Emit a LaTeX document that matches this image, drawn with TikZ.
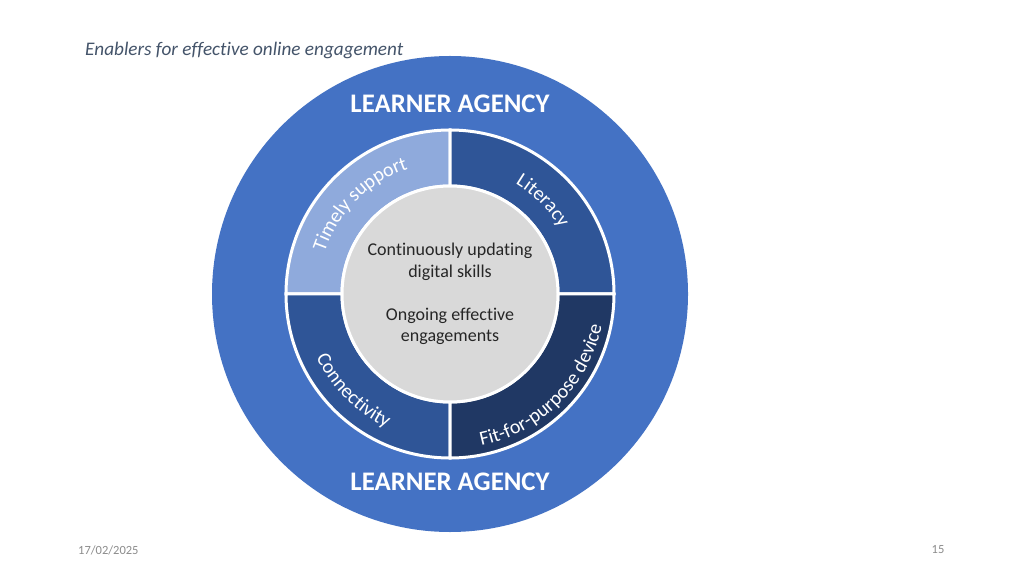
\documentclass[tikz,border=0pt]{standalone}
\usepackage{fontspec}
\setmainfont[Ligatures={NoCommon,NoContextual}]{Carlito}
\usetikzlibrary{decorations.text}
\definecolor{outerblue}{HTML}{4472C4}
\definecolor{lightseg}{HTML}{8FAADC}
\definecolor{midseg}{HTML}{2F5597}
\definecolor{darkseg}{HTML}{203864}
\definecolor{coregrey}{HTML}{D9D9D9}
\definecolor{titlecol}{HTML}{44546A}
\definecolor{footcol}{HTML}{8C8C8C}
\definecolor{coretext}{HTML}{262626}
\begin{document}
\begin{tikzpicture}[x=1pt,y=1pt,
  seg/.style={draw=white, line width=3pt},
  agency/.style={text=white, font=\fontsize{26.8}{30}\selectfont\bfseries, inner sep=0pt},
  curvedlabel/.style={decorate, decoration={text along path, text align=center, text={#1}}},
  foot/.style={text=footcol, font=\fontsize{12.5}{15}\selectfont, inner sep=0pt}]
\useasboundingbox[fill=white] (0,0) rectangle (1024,576);
\node[anchor=base west, text=titlecol, font=\fontsize{19.2}{22}\selectfont\itshape, inner sep=0pt] (title) at (85,520) {Enablers for effective online engagement};
\begin{scope}[shift={(450,282)}]
  \node[circle, fill=outerblue, minimum size=476pt, inner sep=0pt] (outer) at (0,0) {};
  \path[seg, fill=lightseg] (90:164) arc[start angle=90, end angle=180, radius=164] -- (180:108) arc[start angle=180, end angle=90, radius=108] -- cycle;
  \path[seg, fill=midseg] (0:164) arc[start angle=0, end angle=90, radius=164] -- (90:108) arc[start angle=90, end angle=0, radius=108] -- cycle;
  \path[seg, fill=midseg] (180:164) arc[start angle=180, end angle=270, radius=164] -- (270:108) arc[start angle=270, end angle=180, radius=108] -- cycle;
  \path[seg, fill=darkseg] (270:164) arc[start angle=270, end angle=360, radius=164] -- (360:108) arc[start angle=360, end angle=270, radius=108] -- cycle;
  \node[circle, fill=coregrey, draw=white, line width=3pt, minimum size=216pt, inner sep=0pt] (core) at (0,0) {};
  \node[align=center, text=coretext, font=\fontsize{18}{21.5}\selectfont] (coretxt) at (0,0) {Continuously updating\\digital skills\\[21.5pt]Ongoing effective\\engagements};
  \path[curvedlabel={|\color{white}\fontsize{20}{22}\selectfont|Timely support}] (179:132) arc[start angle=179, end angle=91, radius=132];
  \path[curvedlabel={|\color{white}\fontsize{20}{22}\selectfont|Literacy}] (89:128) arc[start angle=89, end angle=1, radius=128];
  \path[curvedlabel={|\color{white}\fontsize{20}{22}\selectfont|Connectivity}] (181:148) arc[start angle=181, end angle=269, radius=148];
  \path[curvedlabel={|\color{white}\fontsize{20}{22}\selectfont|Fit-for-purpose device}] (271:155) arc[start angle=271, end angle=359, radius=155];
\end{scope}
\node[agency] (agencytop) at (450,472) {LEARNER AGENCY};
\node[agency] (agencybot) at (450,94) {LEARNER AGENCY};
\node[foot, anchor=west] (date) at (78,26) {17/02/2025};
\node[foot] (page) at (938,26) {15};
\end{tikzpicture}
\end{document}
